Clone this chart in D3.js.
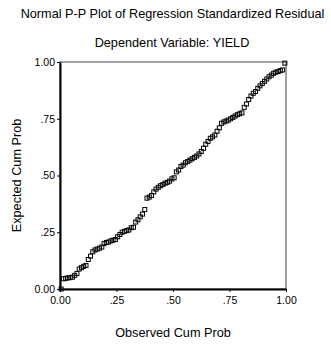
<!DOCTYPE html>
<html>
<head>
<meta charset="utf-8">
<script src="https://cdn.jsdelivr.net/npm/d3@7"></script>
<style>
  html, body { margin: 0; padding: 0; background: #fff; }
  svg text { font-family: Arial, "Liberation Sans", sans-serif; fill: #000; }
</style>
</head>
<body>
<div id="chart"></div>
<script>
(function () {

    var TITLE    = "Normal P-P Plot of Regression Standardized Residual";
    var SUBTITLE = "Dependent Variable: YIELD";
    var X_TITLE  = "Observed Cum Prob";
    var Y_TITLE  = "Expected Cum Prob";

    var TICKS       = [0, 0.25, 0.5, 0.75, 1];
    var TICK_LABELS = ["0.00", ".25", ".50", ".75", "1.00"];

    // observed cumulative probability (x)
    var observed = [
        0.005, 0.015, 0.025, 0.035, 0.045, 0.055, 0.065, 0.075, 0.085, 0.095,
        0.105, 0.115, 0.125, 0.135, 0.145, 0.155, 0.165, 0.175, 0.185, 0.195,
        0.205, 0.215, 0.225, 0.235, 0.245, 0.255, 0.265, 0.275, 0.285, 0.295,
        0.305, 0.315, 0.325, 0.335, 0.345, 0.355, 0.365, 0.375, 0.385, 0.395,
        0.405, 0.415, 0.425, 0.435, 0.445, 0.455, 0.465, 0.475, 0.485, 0.495,
        0.505, 0.515, 0.525, 0.535, 0.545, 0.555, 0.565, 0.575, 0.585, 0.595,
        0.605, 0.615, 0.625, 0.635, 0.645, 0.655, 0.665, 0.675, 0.685, 0.695,
        0.705, 0.715, 0.725, 0.735, 0.745, 0.755, 0.765, 0.775, 0.785, 0.795,
        0.805, 0.815, 0.825, 0.835, 0.845, 0.855, 0.865, 0.875, 0.885, 0.895,
        0.905, 0.915, 0.925, 0.935, 0.945, 0.955, 0.965, 0.975, 0.985, 0.995
    ];

    // expected cumulative probability (y)
    var expected = [
        0.000, 0.045, 0.047, 0.049, 0.050, 0.052, 0.060, 0.068, 0.088, 0.094,
        0.100, 0.104, 0.130, 0.145, 0.164, 0.172, 0.176, 0.180, 0.185, 0.200,
        0.205, 0.207, 0.212, 0.215, 0.218, 0.230, 0.240, 0.250, 0.254, 0.257,
        0.260, 0.270, 0.272, 0.295, 0.305, 0.318, 0.330, 0.350, 0.400, 0.405,
        0.412, 0.428, 0.440, 0.448, 0.455, 0.460, 0.466, 0.470, 0.475, 0.485,
        0.490, 0.516, 0.524, 0.540, 0.546, 0.556, 0.562, 0.568, 0.574, 0.580,
        0.586, 0.595, 0.606, 0.620, 0.638, 0.650, 0.664, 0.670, 0.678, 0.695,
        0.710, 0.730, 0.736, 0.740, 0.744, 0.750, 0.756, 0.762, 0.768, 0.772,
        0.776, 0.800, 0.815, 0.835, 0.850, 0.862, 0.870, 0.884, 0.895, 0.905,
        0.915, 0.925, 0.935, 0.942, 0.950, 0.955, 0.958, 0.962, 0.965, 0.995
    ];

    var W = 331, H = 344;
    var margin = { top: 62, right: 45, bottom: 55, left: 60 };
    var iW = W - margin.left - margin.right;   // 226
    var iH = H - margin.top - margin.bottom;   // 227

    var svg = d3.select("#chart").append("svg")
        .attr("width", W).attr("height", H);

    // titles
    svg.append("text")
        .attr("x", 172.5).attr("y", 18)
        .attr("text-anchor", "middle")
        .style("font-size", "12.7px")
        .text(TITLE);

    svg.append("text")
        .attr("x", 172).attr("y", 47)
        .attr("text-anchor", "middle")
        .style("font-size", "12.7px")
        .text(SUBTITLE);

    var g = svg.append("g")
        .attr("transform", "translate(" + margin.left + "," + margin.top + ")");

    var x = d3.scaleLinear().domain([0, 1]).range([0, iW]);
    var y = d3.scaleLinear().domain([0, 1]).range([iH, 0]);

    // thin frame (top / right)
    g.append("rect")
        .attr("x", 0).attr("y", 0)
        .attr("width", iW).attr("height", iH)
        .attr("fill", "none")
        .attr("stroke", "#444")
        .attr("stroke-width", 1);

    // axes
    var xAxis = g.append("g")
        .attr("transform", "translate(0," + iH + ")")
        .call(d3.axisBottom(x).tickValues(TICKS).tickSize(3).tickSizeOuter(0)
            .tickFormat(function (d, i) { return TICK_LABELS[i]; }));

    var yAxis = g.append("g")
        .call(d3.axisLeft(y).tickValues(TICKS).tickSize(3).tickSizeOuter(0)
            .tickFormat(function (d, i) { return TICK_LABELS[i]; }));

    [xAxis, yAxis].forEach(function (a) {
        a.select(".domain").attr("stroke", "#000").attr("stroke-width", 2);
        a.selectAll(".tick line").attr("stroke", "#000");
        a.selectAll(".tick text")
            .style("font-family", "Arial, 'Liberation Sans', sans-serif")
            .style("font-size", "10.5px")
            .attr("fill", "#000");
    });
    xAxis.selectAll(".tick text").attr("dy", "0.9em");
    yAxis.selectAll(".tick text").attr("x", -5);

    // points
    var pts = observed.map(function (o, i) { return { o: o, e: expected[i] }; });
    var S = 4;
    g.selectAll(".pt").data(pts).enter().append("rect")
        .attr("class", "pt")
        .attr("x", function (d) { return x(d.o) - S / 2; })
        .attr("y", function (d) { return y(d.e) - S / 2; })
        .attr("width", S).attr("height", S)
        .attr("fill", "none")
        .attr("stroke", "#000")
        .attr("stroke-width", 1);

    // axis titles
    svg.append("text")
        .attr("x", margin.left + iW / 2).attr("y", 337)
        .attr("text-anchor", "middle")
        .style("font-size", "12.7px")
        .text(X_TITLE);

    svg.append("text")
        .attr("transform", "translate(21," + (margin.top + iH / 2) + ") rotate(-90)")
        .attr("text-anchor", "middle")
        .style("font-size", "12.7px")
        .text(Y_TITLE);

}());
</script>
</body>
</html>
